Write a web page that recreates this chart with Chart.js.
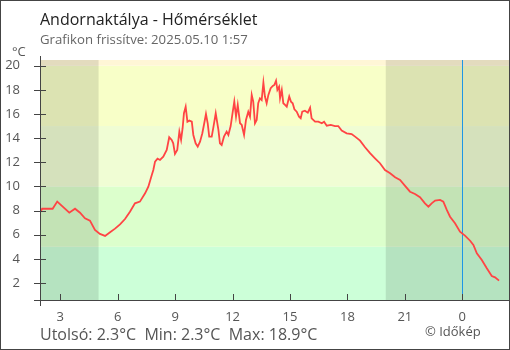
<!DOCTYPE html>
<html>
<head>
<meta charset="utf-8">
<script src="https://cdn.jsdelivr.net/npm/chart.js@4.4.1/dist/chart.umd.min.js"></script>
<style>
    body { margin: 0; background: #fff; }
    #wrap { position: relative; width: 510px; height: 350px; font-family: "Open Sans", sans-serif; color: #555; }
    #chart { position: absolute; left: 0; top: 0; }
    .txt { position: absolute; white-space: nowrap; }
    .title { left: 40px; top: 11px; font-size: 16px; line-height: 16px; color: #222; }
    .sub { left: 40px; top: 33px; font-size: 13.2px; line-height: 13px; color: #666; }
    .unit { left: 12px; top: 45px; font-size: 13px; line-height: 13px; color: #555; }
    .foot { left: 40px; top: 326px; font-size: 16px; line-height: 16px; color: #555; }
    .copy { left: 425px; top: 325px; font-size: 13px; line-height: 13px; color: #555; }
    .frame { position: absolute; left: 0; top: 0; width: 510px; height: 350px; box-sizing: border-box; border: 1px solid #444; pointer-events: none; }
</style>
</head>
<body>
<div id="wrap">
    <canvas id="chart" width="510" height="350"></canvas>
    <div class="txt title">Andornaktálya - Hőmérséklet</div>
    <div class="txt sub">Grafikon frissítve: 2025.05.10 1:57</div>
    <div class="txt unit">°C</div>
    <div class="txt foot">Utolsó: 2.3°C&nbsp; Min: 2.3°C&nbsp; Max: 18.9°C</div>
    <div class="txt copy">© Időkép</div>
    <div class="frame"></div>
</div>
<script>
// Temperature readings (hour of day, 24+ = after midnight)
const hours = [
    1.97, 2.05, 2.60, 2.84, 3.47, 3.77, 4.03, 4.29, 4.55, 4.81,
    5.07, 5.34, 5.60, 5.86, 6.12, 6.38, 6.64, 6.90, 7.16, 7.43,
    7.60, 7.78, 7.86, 7.95, 8.08, 8.21,
    8.38, 8.56, 8.69, 8.82, 8.90, 8.99, 9.11, 9.22, 9.31, 9.39,
    9.46, 9.55, 9.64, 9.74, 9.87, 9.95, 10.07, 10.18, 10.30, 10.42,
    10.52, 10.61, 10.70, 10.78, 10.91, 10.99, 11.12, 11.26, 11.34, 11.43,
    11.55, 11.69, 11.78, 11.90, 12.01, 12.09, 12.18, 12.27, 12.39,
    12.48, 12.60, 12.70, 12.82, 12.91, 13.00, 13.08, 13.17, 13.26, 13.34,
    13.43, 13.52, 13.61, 13.69, 13.78, 13.87, 13.99, 14.10, 14.18, 14.27,
    14.34, 14.43, 14.48, 14.57, 14.65, 14.74, 14.83, 14.96, 15.05, 15.14,
    15.23, 15.35, 15.47, 15.56, 15.64, 15.78, 15.93, 16.05, 16.13, 16.31,
    16.48, 16.66, 16.78,
    16.92, 17.13, 17.35, 17.52, 17.70, 17.96, 18.22, 18.40, 18.66, 18.92,
    19.18, 19.44, 19.70, 19.96, 20.23, 20.49, 20.75, 21.01, 21.27, 21.53,
    21.79, 22.05, 22.23, 22.40, 22.58, 22.84, 23.01, 23.19, 23.36, 23.62,
    23.88, 24.14, 24.41, 24.58, 24.76, 25.02, 25.28, 25.54, 25.71, 25.92
];
const temps = [
    7.9, 8.15, 8.15, 8.74, 7.82, 8.15, 7.82, 7.36, 7.16, 6.39,
    6.06, 5.9, 6.2, 6.5, 6.85, 7.3, 7.9, 8.6, 8.74, 9.43,
    9.98, 10.95, 11.36, 12.05, 12.3, 12.19,
    12.46, 13.02, 14.07, 13.85, 13.57, 12.69, 13.02, 14.54, 13.85, 14.82,
    16.06, 16.6, 15.36, 15.45, 15.36, 14.26, 13.57, 13.3, 13.7, 14.4,
    15.23, 16.0, 15.23, 14.12, 14.12, 14.82, 16.06, 14.68, 13.57, 13.43,
    14.12, 14.54, 14.26, 15.0, 16.19, 17.02, 15.78, 16.75, 15.23,
    15.09, 14.26, 15.5, 16.19, 15.78, 17.58, 17.02, 15.23, 15.5, 16.89,
    17.3, 17.16, 18.6, 17.44, 16.89, 17.58, 18.13, 18.32, 18.4, 18.76,
    17.99, 18.26, 17.3, 17.99, 16.89, 16.75, 16.6, 17.44, 17.02, 16.89,
    16.39, 16.19, 15.78, 15.64, 16.19, 16.27, 16.11, 16.52, 15.64, 15.36,
    15.36, 15.23, 15.36,
    15.03, 15.09, 15.0, 15.0, 14.62, 14.4, 14.34, 14.12, 13.79, 13.24,
    12.75, 12.33, 11.92, 11.36, 11.09, 10.76, 10.53, 10.04, 9.56, 9.37,
    9.1, 8.6, 8.32, 8.6, 8.82, 8.88, 8.74, 8.05, 7.49, 6.95,
    6.25, 5.92, 5.5, 5.15, 4.46, 3.91, 3.22, 2.58, 2.47, 2.19
];

const xTicks = [3, 6, 9, 12, 15, 18, 21, 24];
const yTicks = [2, 4, 6, 8, 10, 12, 14, 16, 18, 20];

// temperature bands (edges in °C) and night periods (hours)
const bandEdges = [-50, 5, 10, 15, 20, 60];
const bandColors = ['#ccffd8', '#dcffcc', '#f0fdd4', '#f8ffc8', '#fff6d6'];
const nights = [[0, 5], [20, 30]];
const midnight = 24;

const backgroundPlugin = {
    id: 'background',
    beforeDatasetsDraw(chart) {
        const { ctx, chartArea: a, scales: { x, y } } = chart;
        ctx.save();
        for (let i = 0; i < bandColors.length; i++) {
            const top = Math.max(a.top, y.getPixelForValue(bandEdges[i + 1]));
            const bottom = Math.min(a.bottom, y.getPixelForValue(bandEdges[i]));
            if (bottom <= top) continue;
            ctx.fillStyle = bandColors[i];
            ctx.fillRect(a.left, top, a.width, bottom - top);
        }
        ctx.fillStyle = 'rgba(0, 0, 0, 0.11)';
        nights.forEach(([from, to]) => {
            const left = Math.max(a.left, x.getPixelForValue(from));
            const right = Math.min(a.right, x.getPixelForValue(to));
            if (right > left) ctx.fillRect(left, a.top, right - left, a.height);
        });
        // midnight marker
        const mx = Math.round(x.getPixelForValue(midnight)) + 0.5;
        ctx.strokeStyle = '#1e96e6';
        ctx.lineWidth = 1;
        ctx.beginPath();
        ctx.moveTo(mx, a.top);
        ctx.lineTo(mx, a.bottom);
        ctx.stroke();
        ctx.restore();
    }
};

const axesPlugin = {
    id: 'axes',
    afterDraw(chart) {
        const { ctx, chartArea: a, scales: { x, y } } = chart;
        const ax = a.left + 0.5;
        const ay = a.bottom + 0.5;
        ctx.save();
        ctx.strokeStyle = '#444';
        ctx.lineWidth = 1;
        ctx.beginPath();
        ctx.moveTo(ax, a.top - 4);
        ctx.lineTo(ax, a.bottom + 6);
        ctx.moveTo(a.left - 6, ay);
        ctx.lineTo(a.right, ay);
        yTicks.forEach(v => {
            const py = Math.round(y.getPixelForValue(v)) + 0.5;
            ctx.moveTo(a.left - 6, py);
            ctx.lineTo(a.left + 6, py);
        });
        xTicks.forEach(v => {
            const px = Math.round(x.getPixelForValue(v)) + 0.5;
            ctx.moveTo(px, a.bottom - 6);
            ctx.lineTo(px, a.bottom);
        });
        ctx.stroke();
        ctx.restore();
    }
};

new Chart(document.getElementById('chart'), {
    type: 'line',
    data: {
        datasets: [{
            data: hours.map((h, i) => ({ x: h, y: temps[i] })),
            borderColor: '#ff4444',
            borderWidth: 1.8,
            pointRadius: 0,
            tension: 0,
            fill: false
        }]
    },
    options: {
        responsive: false,
        animation: false,
        events: [],
        layout: { padding: { left: 0, top: 60, right: 1, bottom: 0 } },
        plugins: {
            legend: { display: false },
            tooltip: { enabled: false }
        },
        scales: {
            x: {
                type: 'linear',
                min: 1.94,
                max: 26.44,
                grid: { display: false },
                border: { display: false },
                afterBuildTicks: s => { s.ticks = xTicks.map(v => ({ value: v })); },
                afterFit: s => { s.height = 50; },
                ticks: {
                    padding: 1,
                    maxRotation: 0,
                    autoSkip: false,
                    color: '#555',
                    font: { family: 'Open Sans', size: 13 },
                    callback: v => String(v % 24)
                }
            },
            y: {
                min: 0.59,
                max: 20.47,
                grid: { display: false },
                border: { display: false },
                afterBuildTicks: s => { s.ticks = yTicks.map(v => ({ value: v })); },
                afterFit: s => { s.width = 40; },
                ticks: {
                    padding: 12,
                    color: '#555',
                    font: { family: 'Open Sans', size: 13 }
                }
            }
        }
    },
    plugins: [backgroundPlugin, axesPlugin]
});
</script>
</body>
</html>
